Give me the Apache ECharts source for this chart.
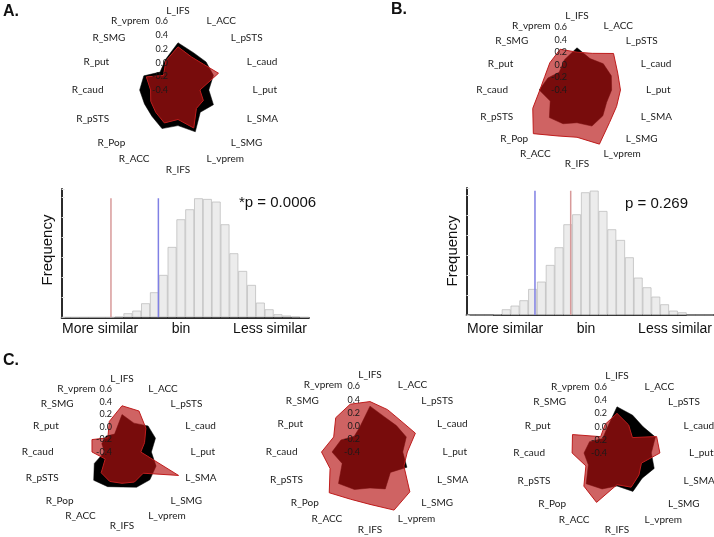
<!DOCTYPE html>
<html><head><meta charset="utf-8">
<script src="https://cdn.jsdelivr.net/npm/echarts@6/dist/echarts.min.js"></script>
<style>html,body{margin:0;padding:0;background:#fff}#c{width:714px;height:537px}</style>
</head><body><div id="c"></div>
<script>
// ---- data (clockwise from top) ----
const regions = ['L_IFS','L_ACC','L_pSTS','L_caud','L_put','L_SMA','L_SMG','L_vprem','R_IFS','R_ACC','R_Pop','R_pSTS','R_caud','R_put','R_SMG','R_vprem'];
const radarMin = -0.4, radarMax = 0.6;

const aBlack = [0.29, 0.19, 0.18, 0.16, 0.05, 0.16, 0.06, 0.26, 0.12, 0.21, 0.14, 0.13, 0.16, 0.14, -0.03, 0.08];
const aRed   = [0.23, 0.12, 0.13, 0.24, -0.08, 0.00, -0.02, 0.20, 0.03, 0.12, 0.06, 0.03, 0.00, 0.10, -0.10, 0.06];

const bBlack = [0.27, 0.14, 0.19, 0.19, 0.15, 0.11, 0.18, 0.22, 0.12, 0.18, 0.22, 0.06, 0.20, 0.10, 0.00, 0.12];
const bRed   = [0.20, 0.23, 0.42, 0.30, 0.29, 0.28, 0.33, 0.53, 0.35, 0.39, 0.58, 0.36, 0.19, 0.155, 0.21, 0.30];

const c1Black = [0.20, 0.10, 0.19, 0.18, 0.07, 0.19, 0.23, 0.21, 0.16, 0.20, 0.24, 0.08, -0.12, -0.05, -0.04, -0.09];
const c1Red   = [0.34, 0.31, 0.14, -0.01, -0.10, 0.58, 0.08, 0.12, 0.10, 0.11, 0.07, -0.11, 0.08, 0.12, -0.08, 0.13];

const c2Black = [0.30, 0.18, 0.17, 0.20, 0.10, 0.21, 0.04, 0.21, 0.15, 0.22, 0.28, 0.06, 0.18, 0.08, -0.06, 0.01];
const c2Red   = [0.37, 0.30, 0.27, 0.35, 0.17, 0.16, 0.46, 0.56, 0.40, 0.38, 0.48, 0.26, 0.34, 0.20, 0.34, 0.39];

const c3Black = [0.30, 0.22, 0.16, 0.23, 0.12, 0.21, 0.14, 0.23, 0.10, 0.19, 0.26, 0.07, 0.10, 0.05, -0.09, 0.00];
const c3Red   = [0.20, 0.06, -0.07, 0.25, 0.25, 0.00, 0.07, 0.16, 0.08, 0.41, 0.31, 0.11, 0.28, 0.33, -0.05, 0.07];

// histograms: frequency per bin (28 bins)
const histA = [0,0,0,0,0,0, 2,12,20,42,75,127,211,294,324,357,355,347,279,192,139,97,44,24,9,5,2, 0];
const histAMarkers = {red: 5.58, blue: 10.95};
const histAMarkerTop = 357;
const histAMax = 385;
const histB = [0,0,0, 2,17,28,44,78,100,150,203,272,302,368,373,312,257,225,173,112,83,55,32,13,8, 0,0,0];
const histBMarkers = {red: 11.83, blue: 7.77};
const histBMarkerTop = 373;
const histBMax = 381;

const pA = '*p = 0.0006';
const pB = 'p = 0.269';

// ---- build ----
// ECharts places radar indicators counter-clockwise; reorder so they read clockwise
const ccwIdx = [0].concat(regions.map((_, i) => i).slice(1).reverse());
const reorder = arr => ccwIdx.map(i => arr[i]);

const lab = v => Math.abs(v) < 1e-9 ? '0.0' : v.toFixed(1);
function makeRadar(center, radius, gap) {
  return {
    z: 5,
    center, radius, startAngle: 90, splitNumber: 5, shape: 'polygon',
    nameGap: gap,
    axisName: {color: '#1a1a1a', fontSize: 10, fontFamily: 'Lato'},
    splitLine: {show: false}, splitArea: {show: false},
    axisLine: {show: false}, axisTick: {show: false}, axisLabel: {show: false},
    indicator: ccwIdx.map((i, k) => {
      const ind = {name: regions[i], min: radarMin, max: radarMax};
      if (k === 0) ind.axisLabel = {show: true, fontSize: 9, fontFamily: 'Lato', color: '#1a1a1a', margin: 10, formatter: lab, showMinLabel: true, showMaxLabel: true};
      return ind;
    })
  };
}
function radarSeries(idx, black, red) {
  return {
    type: 'radar', radarIndex: idx, symbol: 'none', silent: true, z: 2,
    data: [
      {value: reorder(black), areaStyle: {color: '#000', opacity: 1}, lineStyle: {color: '#000', width: 0.5}},
      {value: reorder(red), areaStyle: {color: 'rgb(182,18,18)', opacity: 0.66}, lineStyle: {color: 'rgb(196,36,36)', width: 1}}
    ]
  };
}

const radars = [
  makeRadar([178, 90], 68.5, 6),
  makeRadar([577, 90], 63, 6),
  makeRadar([122, 452], 62.5, 6),
  makeRadar([370, 452], 65.5, 7),
  makeRadar([617, 453], 66, 6)
];

const bins = histA.map((_, i) => String(i + 1));
function histAxes(g) {
  return [
    {type: 'category', gridIndex: g, data: bins, boundaryGap: true,
     axisLine: {lineStyle: {color: '#2b2b2b', width: 2}}, axisTick: {show: false}, axisLabel: {show: false}},
    {type: 'value', gridIndex: g, min: 0, max: bins.length, show: false}
  ];
}
const grids = [
  {left: 61.7, top: 189, width: 247.2, height: 128.3},
  {left: 466.6, top: 188, width: 246.4, height: 127}
];
const xAxes = [].concat(histAxes(0), histAxes(1));
const yAxes = [histAMax, histBMax].map((m, g) => ({
  type: 'value', gridIndex: g, min: 0, max: m, interval: 60,
  axisLine: {show: true, lineStyle: {color: '#2b2b2b', width: 2}},
  axisTick: {show: true, inside: true, length: 3, lineStyle: {color: '#e4e4e4'}},
  axisLabel: {show: false}, splitLine: {show: false}
}));
const barStyle = {color: '#ececec', borderColor: '#b8b8b8', borderWidth: 0.7};
function marker(x, top, xi, yi, color) {
  return {type: 'line', xAxisIndex: xi, yAxisIndex: yi, symbol: 'none', silent: true,
    data: [[x, 0], [x, top]], lineStyle: {color, width: 1.5}};
}
const RED = '#d89a9a', BLUE = '#8080e4';

const font = '"Liberation Sans", Arial, sans-serif';
function txt(text, x, y, size, opts) {
  opts = opts || {};
  return {type: 'text', x, y, rotation: opts.rot || 0, silent: true,
    style: {text, fill: '#111', font: (opts.bold ? 'bold ' : '') + size + 'px ' + font,
      align: opts.align || 'left', verticalAlign: 'middle'}};
}

const chart = echarts.init(document.getElementById('c'), null, {renderer: 'canvas'});
chart.setOption({
  animation: false,
  backgroundColor: '#fff',
  radar: radars,
  grid: grids,
  xAxis: xAxes,
  yAxis: yAxes,
  series: [
    radarSeries(0, aBlack, aRed),
    radarSeries(1, bBlack, bRed),
    radarSeries(2, c1Black, c1Red),
    radarSeries(3, c2Black, c2Red),
    radarSeries(4, c3Black, c3Red),
    {type: 'bar', xAxisIndex: 0, yAxisIndex: 0, data: histA, barWidth: '100%', silent: true, itemStyle: barStyle},
    marker(histAMarkers.red, histAMarkerTop, 1, 0, RED),
    marker(histAMarkers.blue, histAMarkerTop, 1, 0, BLUE),
    {type: 'bar', xAxisIndex: 2, yAxisIndex: 1, data: histB, barWidth: '100%', silent: true, itemStyle: barStyle},
    marker(histBMarkers.red, histBMarkerTop, 3, 1, RED),
    marker(histBMarkers.blue, histBMarkerTop, 3, 1, BLUE)
  ],
  graphic: [
    txt('A.', 3, 12, 16, {bold: true}),
    txt('B.', 391, 10, 16, {bold: true}),
    txt('C.', 3, 361, 16, {bold: true}),
    txt('Frequency', 48, 250, 15, {align: 'center', rot: Math.PI / 2}),
    txt('Frequency', 453, 251, 15, {align: 'center', rot: Math.PI / 2}),
    txt('More similar', 62, 329, 14),
    txt('bin', 181, 329, 14, {align: 'center'}),
    txt('Less similar', 307, 329, 14, {align: 'right'}),
    txt('More similar', 467, 329, 14),
    txt('bin', 586, 329, 14, {align: 'center'}),
    txt('Less similar', 712, 329, 14, {align: 'right'}),
    txt(pA, 239, 203, 15),
    txt(pB, 625, 204, 15)
  ]
});
</script></body></html>
